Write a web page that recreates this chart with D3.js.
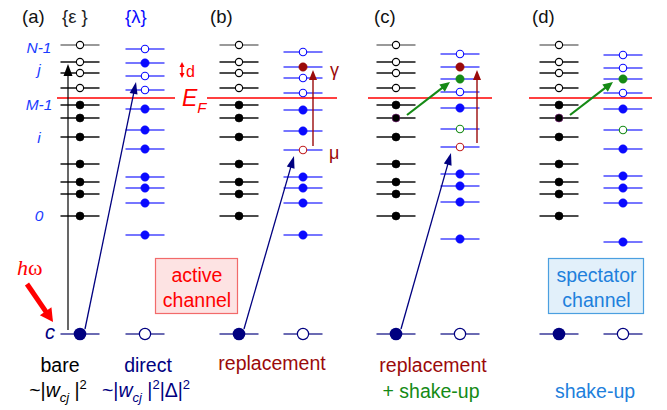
<!DOCTYPE html>
<html><head><meta charset="utf-8">
<script src="https://cdn.jsdelivr.net/npm/d3@7"></script>
<style>body{margin:0;background:#fff} svg{display:block;font-family:"Liberation Sans",Arial,sans-serif}</style>
</head><body><svg id="c" width="667" height="410"></svg>
<script>
// ---------------- DATA ----------------
const panels = ["a", "b", "c", "d"];
const panelTags = ["(a)", "(b)", "(c)", "(d)"];
// initial-state orbital energies {ε} (arbitrary units)
const epsLevels = [17.1, 15.4, 14.3, 12.8, 11.1, 9.8, 7.9, 5.2, 3.4, 2.2, 0];
const epsOcc    = ["e", "e", "e", "e", "f", "f", "f", "f", "f", "f", "f"];
const fermiLevel = 11.8;
const coreLevel = -11.8;
// final-state orbital energies {λ} per panel
const lambdaA = [16.7, 15.3, 14.0, 12.6, 10.7, 8.6, 6.7, 3.9, 2.8, 1.3, -1.9];
const lambdaB = [16.4, 14.9, 13.8, 12.3, 10.6, 8.5, 6.6, 3.9, 2.8, 1.3, -1.9];
const lambdaC = [16.2, 14.9, 13.7, 12.4, 10.8, 8.7, 6.9, 4.2, 3.0, 1.4, -2.3];
const lambdaD = [16.1, 14.8, 13.7, 12.3, 10.7, 8.6, 6.7, 4.0, 2.8, 1.3, -2.6];
// occupation: e empty, f filled, r filled (γ), R empty (μ), g filled (shake-up), G empty (shake-up hole)
const occA = ["e", "f", "e", "e", "f", "f", "f", "f", "f", "f", "f"];
const occB = ["e", "r", "e", "e", "f", "f", "R", "f", "f", "f", "f"];
const occC = ["e", "r", "g", "e", "f", "G", "R", "f", "f", "f", "f"];
const occD = ["e", "e", "g", "e", "f", "G", "f", "f", "f", "f", "f"];
const lambdaSets = [lambdaA, lambdaB, lambdaC, lambdaD];
const occSets = [occA, occB, occC, occD];
// core level: filled in initial state, empty in final state
const coreOccEps = ["f", "f", "f", "f"];
const coreOccLam = ["e", "e", "e", "e"];
// transitions
const photoTarget = [2, 6, 6, null];        // λ index reached from core (navy arrows)
const replaceFrom = [null, 6, 6, null];     // μ -> γ (dark red arrows)
const replaceTo   = [null, 1, 1, null];
const shakeFrom   = [null, null, 5, 5];     // ε index -> λ index (green arrows)
const shakeTo     = [null, null, 2, 2];
const bareTarget = 1;                      // ε index reached in panel (a)
// labels
const levelLabels = ["N-1", "j", "M-1", "i", "0"];
const levelLabelIdx = [0, 1, 4, 6, 10];
const bottomLine1 = ["bare", "direct", "replacement", "replacement"];
const bottomLine2 = ["+ shake-up", "shake-up"];
const boxActive = ["active", "channel"];
const boxSpectator = ["spectator", "channel"];

// ---------------- LAYOUT ----------------
const svg = d3.select("#c");
const y = d3.scaleLinear().domain([coreLevel, 17.1]).range([334, 45]);
const epsX = d3.scaleOrdinal().domain(panels).range([80, 239, 396, 559]);
const lamX = d3.scaleOrdinal().domain(panels).range([145, 303, 460, 623]);
const halfW = 19.5;
const efSeg = [[57, 175], [207, 337], [368, 492], [529, 652]];
const C = {blue: "#0a0aff", line: "#2a2aff", navy: "#000080", red: "#ff0000", dred: "#9b0a0a",
           green: "#158a15", lblue: "#1e80dc"};

function arrow(g, x1, y1, x2, y2, color, sw, hl, hw) {
  const dx = x2 - x1, dy = y2 - y1, L = Math.hypot(dx, dy), ux = dx / L, uy = dy / L;
  const bx = x2 - ux * hl, by = y2 - uy * hl;
  g.append("line").attr("x1", x1).attr("y1", y1).attr("x2", bx + ux * 1).attr("y2", by + uy * 1)
    .attr("stroke", color).attr("stroke-width", sw);
  g.append("path").attr("d", `M${x2},${y2}L${bx - uy * hw / 2},${by + ux * hw / 2}L${bx + uy * hw / 2},${by - ux * hw / 2}Z`)
    .attr("fill", color);
}

// Fermi level segments
panels.forEach((p, k) => {
  svg.append("line").attr("x1", efSeg[k][0]).attr("x2", efSeg[k][1])
    .attr("y1", y(fermiLevel)).attr("y2", y(fermiLevel)).attr("stroke", C.red).attr("stroke-width", 1.3);
});

// boxes
function box(x0, y0, x1, y1, fill, stroke, color, lines) {
  svg.append("rect").attr("x", x0 + 0.5).attr("y", y0 + 0.5).attr("width", x1 - x0).attr("height", y1 - y0)
    .attr("fill", fill).attr("stroke", stroke).attr("stroke-width", 1.2);
  lines.forEach((t, i) => svg.append("text").attr("x", (x0 + x1) / 2 + 1).attr("y", y0 + 24 + i * 25)
    .attr("text-anchor", "middle").attr("font-size", 19.5).attr("fill", color).text(t));
}
box(155, 258, 237, 313, "#fde3e3", "#f26a6a", C.red, boxActive);
box(548, 258, 643, 313, "#e2f0fa", "#4b9fe0", C.lblue, boxSpectator);

panels.forEach((p, k) => {
  const g = svg.append("g");
  const ex = epsX(p), lx = lamX(p);
  // ε levels
  epsLevels.forEach((E, i) => {
    g.append("line").attr("x1", ex - halfW).attr("x2", ex + halfW).attr("y1", y(E)).attr("y2", y(E))
      .attr("stroke", i === 0 ? "#777" : "#111").attr("stroke-width", 1.4);
  });
  // λ levels
  lambdaSets[k].forEach((E, i) => {
    g.append("line").attr("x1", lx - halfW).attr("x2", lx + halfW).attr("y1", y(E)).attr("y2", y(E))
      .attr("stroke", C.line).attr("stroke-width", 1.6).attr("opacity", 0.85);
  });
  // core lines
  [ex, lx].forEach(x => g.append("line").attr("x1", x - halfW).attr("x2", x + halfW)
    .attr("y1", y(coreLevel)).attr("y2", y(coreLevel)).attr("stroke", "#3a3a9a").attr("stroke-width", 1.3));

  // arrows (drawn under dots)
  if (k === 0) arrow(g, ex - 12, y(coreLevel) - 4, ex - 12, y(epsLevels[bareTarget]) + 2, "#000", 1.2, 12, 9);
  if (photoTarget[k] !== null)
    arrow(g, ex + 5, y(coreLevel) - 5, lx - 9, y(lambdaSets[k][photoTarget[k]]) + 6, C.navy, 1.3, 12, 8);
  if (replaceFrom[k] !== null) {
    const rx = lx + (k === 1 ? 10 : 17);
    arrow(g, rx, y(lambdaSets[k][replaceFrom[k]]) - 4, rx, y(lambdaSets[k][replaceTo[k]]) + 3, C.dred, 1.4, 10, 8);
  }
  if (shakeFrom[k] !== null)
    arrow(g, ex + 11, y(epsLevels[shakeFrom[k]]) - 3, lx - 10, y(lambdaSets[k][shakeTo[k]]) + 3, C.green, 2.2, 10, 9);

  // ε dots
  epsLevels.forEach((E, i) => {
    const o = epsOcc[i];
    const purple = (shakeFrom[k] === i);
    g.append("circle").attr("cx", ex).attr("cy", y(E)).attr("r", o === "f" ? 4 : 3.6)
      .attr("fill", o === "f" ? "#000" : "#fff").attr("stroke", purple ? "#802080" : "#000")
      .attr("stroke-width", o === "f" ? 0.6 : 1.1);
  });
  // λ dots
  lambdaSets[k].forEach((E, i) => {
    const o = occSets[k][i];
    const col = {e: C.blue, f: C.blue, r: C.dred, R: "#c02020", g: C.green, G: C.green}[o];
    const filled = (o === "f" || o === "r" || o === "g");
    g.append("circle").attr("cx", lx).attr("cy", y(E)).attr("r", filled ? 4.2 : 3.7)
      .attr("fill", filled ? col : "#fff").attr("stroke", col).attr("stroke-width", filled ? 0.5 : 1.1);
  });
  // core dots
  const cf = coreOccEps[k] === "f", cl = coreOccLam[k] === "f";
  g.append("circle").attr("cx", ex).attr("cy", y(coreLevel)).attr("r", cf ? 6.3 : 5.6)
    .attr("fill", cf ? C.navy : "#fff").attr("stroke", C.navy).attr("stroke-width", cf ? 0 : 1.2);
  g.append("circle").attr("cx", lx).attr("cy", y(coreLevel)).attr("r", cl ? 6.3 : 5.6)
    .attr("fill", cl ? C.navy : "#fff").attr("stroke", C.navy).attr("stroke-width", cl ? 0 : 1.2);

  // panel tag
  svg.append("text").attr("x", [22, 210, 374, 532][k]).attr("y", 23).attr("font-size", 18.5).attr("fill", "#111").text(panelTags[k]);
});

// header braces
svg.append("text").attr("x", 62).attr("y", 23).attr("font-size", 18.5).attr("fill", "#222").text("{ε }");
svg.append("text").attr("x", 125).attr("y", 23).attr("font-size", 18.5).attr("fill", C.blue).text("{λ}");

// level labels
const lblDy = [8, 13, 5, 6, 5];
levelLabels.forEach((t, i) => {
  svg.append("text").attr("x", 39).attr("y", y(epsLevels[levelLabelIdx[i]]) + lblDy[i])
    .attr("text-anchor", "middle").attr("font-size", 15.5).attr("font-style", "italic").attr("fill", "#1a3cff").text(t);
});
svg.append("text").attr("x", 50).attr("y", 339).attr("text-anchor", "middle").attr("font-size", 20)
  .attr("font-style", "italic").attr("fill", C.navy).text("c");

// ħω arrow
arrow(svg, 27, 284, 53, 322, C.red, 5, 13, 14);
svg.append("text").attr("x", 17).attr("y", 275).attr("font-family", "Liberation Serif, serif").attr("font-size", 22)
  .attr("fill", C.red).call(t => {
    t.append("tspan").attr("font-style", "italic").text("h");
    t.append("tspan").text("ω");
  });

// E_F
svg.append("text").attr("x", 182).attr("y", 106).attr("fill", C.red).attr("font-style", "italic").call(t => {
  t.append("tspan").attr("font-size", 23).text("E");
  t.append("tspan").attr("font-size", 15).attr("dy", 7).text("F");
});
// d spacing
arrow(svg, 182, 70, 182, 62, C.red, 1.4, 5, 5);
arrow(svg, 182, 70, 182, 78, C.red, 1.4, 5, 5);
svg.append("text").attr("x", 186).attr("y", 77).attr("font-size", 16).attr("fill", C.red).text("d");
// γ, μ
svg.append("text").attr("x", 330).attr("y", 76).attr("font-size", 18).attr("fill", C.dred).text("γ");
svg.append("text").attr("x", 329).attr("y", 159).attr("font-size", 18).attr("fill", C.dred).text("μ");

// bottom labels
function label(x, yy, color, text) {
  svg.append("text").attr("x", x).attr("y", yy).attr("text-anchor", "middle").attr("font-size", 19.5).attr("fill", color).text(text);
}
label(60, 372, "#000", bottomLine1[0]);
label(148, 372, C.navy, bottomLine1[1]);
label(272, 370, C.dred, bottomLine1[2]);
label(433, 372, C.dred, bottomLine1[3]);
label(431, 398, C.green, bottomLine2[0]);
label(595, 398, C.lblue, bottomLine2[1]);

function formula(x, yy, color, withDelta) {
  const t = svg.append("text").attr("x", x).attr("y", yy).attr("text-anchor", "middle").attr("font-size", 19.5).attr("fill", color);
  t.append("tspan").text("~|");
  t.append("tspan").attr("font-style", "italic").text("w");
  t.append("tspan").attr("font-style", "italic").attr("font-size", 13).attr("dy", 5).text("cj");
  t.append("tspan").attr("dy", -5).text(" |");
  t.append("tspan").attr("font-size", 13).attr("dy", -8).text("2");
  if (withDelta) {
    t.append("tspan").attr("dy", 8).text("|Δ|");
    t.append("tspan").attr("font-size", 13).attr("dy", -8).text("2");
  }
}
formula(58, 397, "#000", false);
formula(146, 397, C.navy, true);
</script></body></html>
